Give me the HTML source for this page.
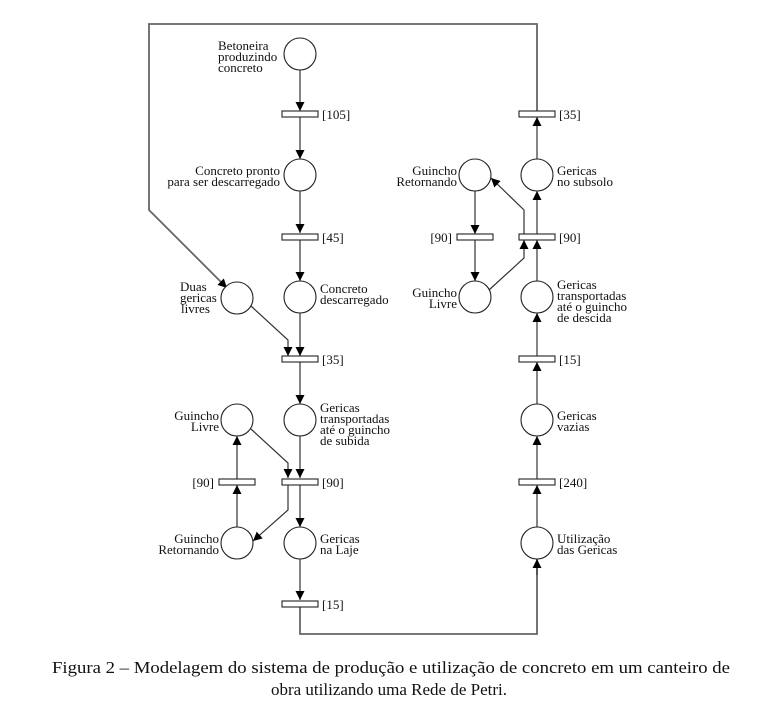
<!DOCTYPE html>
<html><head><meta charset="utf-8"><style>
html,body{margin:0;padding:0;background:#fff;}
svg{display:block;}
text{font-family:"Liberation Serif",serif;font-size:13px;fill:#111;}
.c{font-size:17px;}
</style></head><body>
<svg width="778" height="724" viewBox="0 0 778 724" xmlns="http://www.w3.org/2000/svg">
<defs>
<marker id="a" markerUnits="userSpaceOnUse" markerWidth="10" markerHeight="10" refX="9" refY="4.5" orient="auto">
<path d="M0,0 L9,4.5 L0,9 z" fill="#000"/>
</marker>
</defs>
<g fill="none" stroke="#333" stroke-width="1.2">
<!-- outer loop -->
<polyline points="537,111 537,24 149,24 149,210 226,287" stroke="#666" stroke-width="1.8"/>
<line x1="226" y1="287" x2="227" y2="288" marker-end="url(#a)"/>
<!-- left column -->
<line x1="300" y1="70" x2="300" y2="111" marker-end="url(#a)"/>
<line x1="300" y1="117" x2="300" y2="159" marker-end="url(#a)"/>
<line x1="300" y1="191" x2="300" y2="233" marker-end="url(#a)"/>
<line x1="300" y1="240" x2="300" y2="281" marker-end="url(#a)"/>
<line x1="300" y1="313" x2="300" y2="356" marker-end="url(#a)"/>
<polyline points="251,306 288,340 288,356" marker-end="url(#a)"/>
<line x1="300" y1="362" x2="300" y2="404" marker-end="url(#a)"/>
<line x1="300" y1="436" x2="300" y2="478" marker-end="url(#a)"/>
<polyline points="251,429 288,463 288,478" marker-end="url(#a)"/>
<line x1="300" y1="485" x2="300" y2="527" marker-end="url(#a)"/>
<polyline points="288,485 288,510 253,541" marker-end="url(#a)"/>
<line x1="237" y1="527" x2="237" y2="485" marker-end="url(#a)"/>
<line x1="237" y1="479" x2="237" y2="436" marker-end="url(#a)"/>
<line x1="300" y1="559" x2="300" y2="600" marker-end="url(#a)"/>
<polyline points="300,607 300,634 537,634 537,559" stroke="#666" stroke-width="1.8"/>
<line x1="537" y1="575" x2="537" y2="559" marker-end="url(#a)"/>
<!-- right column -->
<line x1="537" y1="527" x2="537" y2="485" marker-end="url(#a)"/>
<line x1="537" y1="479" x2="537" y2="436" marker-end="url(#a)"/>
<line x1="537" y1="404" x2="537" y2="362" marker-end="url(#a)"/>
<line x1="537" y1="356" x2="537" y2="313" marker-end="url(#a)"/>
<line x1="537" y1="281" x2="537" y2="240" marker-end="url(#a)"/>
<line x1="537" y1="234" x2="537" y2="191" marker-end="url(#a)"/>
<line x1="537" y1="159" x2="537" y2="117" marker-end="url(#a)"/>
<polyline points="489,290 524,258 524,240" marker-end="url(#a)"/>
<polyline points="524,234 524,210 491,178" marker-end="url(#a)"/>
<line x1="475" y1="191" x2="475" y2="234" marker-end="url(#a)"/>
<line x1="475" y1="240" x2="475" y2="281" marker-end="url(#a)"/>
</g>
<g fill="#fff" stroke="#222" stroke-width="1.1">
<circle cx="300" cy="54" r="16"/>
<circle cx="300" cy="175" r="16"/>
<circle cx="300" cy="297" r="16"/>
<circle cx="237" cy="298" r="16"/>
<circle cx="300" cy="420" r="16"/>
<circle cx="237" cy="420" r="16"/>
<circle cx="237" cy="543" r="16"/>
<circle cx="300" cy="543" r="16"/>
<circle cx="537" cy="175" r="16"/>
<circle cx="537" cy="297" r="16"/>
<circle cx="537" cy="420" r="16"/>
<circle cx="537" cy="543" r="16"/>
<circle cx="475" cy="175" r="16"/>
<circle cx="475" cy="297" r="16"/>
<rect x="282" y="111" width="36" height="6"/>
<rect x="282" y="234" width="36" height="6"/>
<rect x="282" y="356" width="36" height="6"/>
<rect x="282" y="479" width="36" height="6"/>
<rect x="219" y="479" width="36" height="6"/>
<rect x="282" y="601" width="36" height="6"/>
<rect x="519" y="111" width="36" height="6"/>
<rect x="519" y="234" width="36" height="6"/>
<rect x="457" y="234" width="36" height="6"/>
<rect x="519" y="356" width="36" height="6"/>
<rect x="519" y="479" width="36" height="6"/>
</g>
<!-- transition labels -->
<text x="322" y="119">[105]</text>
<text x="322" y="242">[45]</text>
<text x="322" y="364">[35]</text>
<text x="322" y="487">[90]</text>
<text x="214" y="487" text-anchor="end">[90]</text>
<text x="322" y="609">[15]</text>
<text x="559" y="119">[35]</text>
<text x="559" y="242">[90]</text>
<text x="452" y="242" text-anchor="end">[90]</text>
<text x="559" y="364">[15]</text>
<text x="559" y="487">[240]</text>
<!-- place labels -->
<g>
<text x="218" y="50">Betoneira</text>
<text x="218" y="61">produzindo</text>
<text x="218" y="72">concreto</text>
<text x="280" y="175" text-anchor="end">Concreto pronto</text>
<text x="280" y="186" text-anchor="end">para ser descarregado</text>
<text x="180" y="291">Duas</text>
<text x="180" y="302">gericas</text>
<text x="181" y="313">livres</text>
<text x="320" y="293">Concreto</text>
<text x="320" y="304">descarregado</text>
<text x="320" y="412">Gericas</text>
<text x="320" y="423">transportadas</text>
<text x="320" y="434">até o guincho</text>
<text x="320" y="445">de subida</text>
<text x="219" y="420" text-anchor="end">Guincho</text>
<text x="219" y="431" text-anchor="end">Livre</text>
<text x="219" y="543" text-anchor="end">Guincho</text>
<text x="219" y="554" text-anchor="end">Retornando</text>
<text x="320" y="543">Gericas</text>
<text x="320" y="554">na Laje</text>
<text x="457" y="175" text-anchor="end">Guincho</text>
<text x="457" y="186" text-anchor="end">Retornando</text>
<text x="557" y="175">Gericas</text>
<text x="557" y="186">no subsolo</text>
<text x="457" y="297" text-anchor="end">Guincho</text>
<text x="457" y="308" text-anchor="end">Livre</text>
<text x="557" y="289">Gericas</text>
<text x="557" y="300">transportadas</text>
<text x="557" y="311">até o guincho</text>
<text x="557" y="322">de descida</text>
<text x="557" y="420">Gericas</text>
<text x="557" y="431">vazias</text>
<text x="557" y="543">Utilização</text>
<text x="557" y="554">das Gericas</text>
</g>
<text class="c" x="52" y="673" textLength="678" lengthAdjust="spacingAndGlyphs">Figura 2 – Modelagem do sistema de produção e utilização de concreto em um canteiro de</text>
<text class="c" x="389" y="695" text-anchor="middle">obra utilizando uma Rede de Petri.</text>
</svg>
</body></html>
